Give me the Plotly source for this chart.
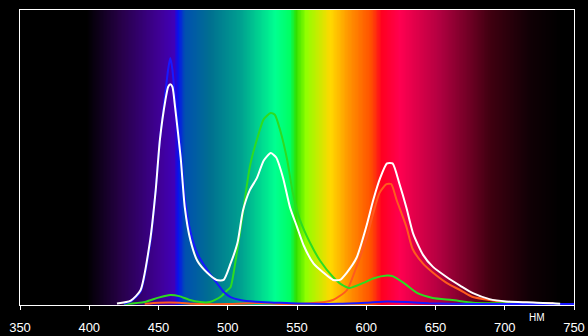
import plotly.graph_objects as go

# ---- data (wavelength nm, relative intensity) ----
white_wl = [420, 430, 437, 444, 448, 451, 455, 457, 458.5, 460, 462, 466, 469, 473, 478, 485, 492, 497,
            502, 507, 511, 516, 521, 526, 531, 535, 540, 545, 550, 555, 562, 569, 576, 581, 586, 593,
            600, 605, 610, 615, 619, 624, 629, 634, 641, 648, 658, 668, 677, 689, 701, 716, 735, 740]
white_val = [0.005, 0.015, 0.05, 0.22, 0.39, 0.56, 0.695, 0.74, 0.748, 0.74, 0.67, 0.50, 0.33, 0.22, 0.15,
             0.11, 0.085, 0.085, 0.14, 0.21, 0.32, 0.39, 0.43, 0.49, 0.515, 0.50, 0.43, 0.33, 0.265, 0.20,
             0.14, 0.11, 0.085, 0.085, 0.11, 0.16, 0.265, 0.355, 0.43, 0.48, 0.48, 0.41, 0.33, 0.24, 0.17,
             0.13, 0.095, 0.065, 0.04, 0.02, 0.012, 0.009, 0.006, 0.004]

blue_wl = [425, 430, 437, 444, 448, 451, 455, 457, 458.5, 460, 462, 466, 469, 473, 478, 485, 492, 497,
           502, 509, 520, 535, 550, 580, 600, 615, 630, 645, 660, 700, 750]
blue_val = [0.004, 0.012, 0.045, 0.21, 0.39, 0.56, 0.72, 0.80, 0.837, 0.80, 0.70, 0.52, 0.36, 0.25, 0.175,
            0.12, 0.075, 0.045, 0.027, 0.017, 0.011, 0.008, 0.005, 0.004, 0.008, 0.012, 0.01, 0.006,
            0.004, 0.003, 0.003]

green_wl = [425, 440, 450, 458.5, 465, 472, 480, 487, 494.6, 499.6, 502, 507, 511.5, 516, 521, 526, 531,
            534, 538, 543, 547, 552, 559.5, 566.7, 576, 582, 588, 598, 605, 615, 619, 627, 637, 648,
            662, 677, 690, 730]
green_val = [0.003, 0.01, 0.025, 0.034, 0.03, 0.018, 0.01, 0.01, 0.027, 0.05, 0.06, 0.19, 0.33, 0.47,
             0.56, 0.63, 0.651, 0.645, 0.59, 0.49, 0.38, 0.29, 0.21, 0.15, 0.095, 0.07, 0.058, 0.075,
             0.09, 0.10, 0.098, 0.075, 0.04, 0.024, 0.017, 0.008, 0.006, 0.005]

red_wl = [440, 450, 465, 475, 500, 520, 527, 540, 560, 570, 576, 586, 593, 600.5, 605, 609.6, 614.6, 618,
          622, 629, 633.5, 641, 648, 658, 668, 677, 689, 701, 716, 735]
red_val = [0.004, 0.008, 0.008, 0.004, 0.003, 0.007, 0.006, 0.003, 0.006, 0.01, 0.017, 0.05, 0.13, 0.23,
           0.31, 0.38, 0.41, 0.41, 0.355, 0.265, 0.19, 0.14, 0.11, 0.075, 0.05, 0.027, 0.017, 0.01,
           0.008, 0.006]

tick_vals = [350, 400, 450, 500, 550, 600, 650, 700, 750]
unit_label = "НМ"

# ---- spectrum background (wavelength -> colour stops) ----
spec_stops = [(350, "#000000"), (398, "#000000"), (422, "#260046"), (451, "#400098"), (461, "#4000b8"),
              (463.5, "#0810f0"), (469, "#0050b0"), (487, "#007090"), (509, "#00a090"), (534, "#00ff90"),
              (545, "#00ff60"), (549, "#30e000"), (556, "#90ff00"), (574, "#ffd800"), (588, "#ff9000"),
              (603, "#ff5000"), (611, "#ff0020"), (624, "#ff0050"), (653, "#b00040"), (689, "#400010"),
              (718, "#100005"), (740, "#000000"), (750, "#000000")]
cscale = [[(w - 350) / 400.0, c] for w, c in spec_stops]
bg_x = list(range(350, 751))

fig = go.Figure()
fig.add_trace(go.Heatmap(x=bg_x, y=[0, 1], z=[bg_x, bg_x], colorscale=cscale, zmin=350, zmax=750,
                         showscale=False, hoverinfo="skip", zsmooth="best"))

def add_line(xs, ys, color):
    fig.add_trace(go.Scatter(x=xs, y=ys, mode="lines",
                             line=dict(color=color, width=2, shape="spline", smoothing=0.6),
                             hoverinfo="skip"))

add_line(red_wl, red_val, "#ff5a1e")
add_line(green_wl, green_val, "#2cdc20")
add_line(blue_wl, blue_val, "#1818ff")
add_line(white_wl, white_val, "#ffffff")

fig.update_layout(
    width=588, height=336,
    margin=dict(l=20, r=14, t=10, b=31),
    paper_bgcolor="black", plot_bgcolor="black",
    showlegend=False,
    xaxis=dict(range=[350, 750], tickvals=tick_vals, ticktext=[str(t) for t in tick_vals],
               showgrid=False, zeroline=False, showline=True, linecolor="white", linewidth=1,
               mirror=True, ticks="outside", ticklen=4, tickcolor="white", ticklabelstandoff=6,
               automargin=False,
               tickfont=dict(color="white", size=13, family="Liberation Sans, Arial")),
    yaxis=dict(range=[0, 1], showgrid=False, zeroline=False, showticklabels=False, automargin=False,
               showline=True, linecolor="white", linewidth=1, mirror=True, ticks=""),
    annotations=[dict(text=unit_label, xref="paper", yref="paper", x=0.933, y=-0.044,
                      xanchor="center", yanchor="middle", showarrow=False,
                      font=dict(color="white", size=10, family="Liberation Sans, Arial"))],
)

fig.write_html("out.html")
